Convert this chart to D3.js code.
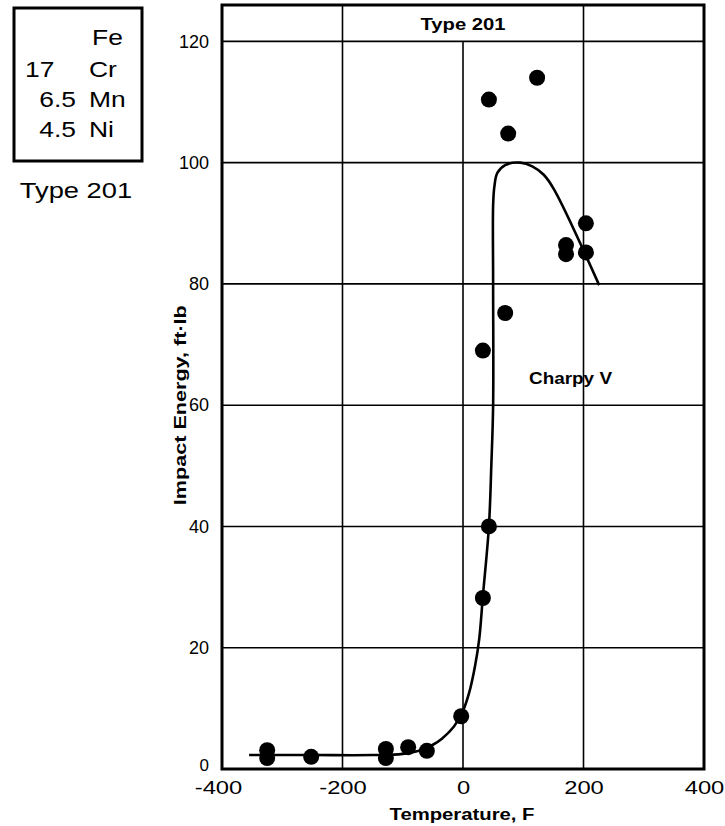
<!DOCTYPE html>
<html><head><meta charset="utf-8">
<script src="https://cdn.jsdelivr.net/npm/d3@7"></script>
<style>body{margin:0;background:#fff}svg{display:block}text{font-family:"Liberation Sans",Arial,sans-serif;fill:#000}</style>
</head><body><svg id="c" width="725" height="826"></svg>
<script>
const xTicks = [-400, -200, 0, 200, 400];
const yTicks = [0, 20, 40, 60, 80, 100, 120];
const pointTemps =  [-325, -325, -252, -128, -128, -91, -60, -3, 33, 43, 33, 70, 43, 75, 123, 171, 171, 204, 204];
const pointEnergy = [3.1, 1.8, 2.0, 3.3, 1.8, 3.6, 3.0, 8.7, 28.2, 40, 69, 75.2, 110.4, 104.8, 114, 86.4, 84.9, 90, 85.2];
const curveTemps =  [-355, -250, -150, -100, -70, -50, -35, -15, 0, 10, 20, 27, 33, 43, 47, 50, 50, 50, 52, 57, 70, 95, 115, 134, 151, 226];
const curveEnergy = [2.3, 2.3, 2.3, 2.5, 3.1, 4.0, 5.0, 7.0, 9.6, 12.5, 17, 21.5, 28.5, 40, 50, 60, 80, 93, 96, 98.3, 99.6, 100, 99.4, 98, 95.6, 79.8];
const compNumbers = ["", "17", "6.5", "4.5"];
const compElements = ["Fe", "Cr", "Mn", "Ni"];

const svg = d3.select("#c");
const x = d3.scaleLinear().domain([-400, 400]).range([222, 704]);
const y = d3.scaleLinear().domain([0, 126]).range([769, 5]);

function stretch(sel, k) {
  sel.each(function () {
    const w = this.getComputedTextLength();
    this.setAttribute("textLength", w * k);
    this.setAttribute("lengthAdjust", "spacingAndGlyphs");
  });
}
function fitTo(sel, w) {
  sel.attr("textLength", w).attr("lengthAdjust", "spacingAndGlyphs");
}

// gridlines
const g = svg.append("g");
g.selectAll(".hg").data(yTicks.filter(v => v > 0)).join("line")
  .attr("x1", x(-400)).attr("x2", x(400)).attr("y1", d => y(d)).attr("y2", d => y(d))
  .attr("stroke", "#000").attr("stroke-width", 1.6);
g.selectAll(".vg").data([-200, 0, 200]).join("line")
  .attr("x1", d => x(d)).attr("x2", d => x(d))
  .attr("y1", d => d === 0 ? y(120) : y(126)).attr("y2", y(0))
  .attr("stroke", "#000").attr("stroke-width", 1.6);

// axes (labels only, frame drawn separately)
const xAxis = svg.append("g").attr("transform", `translate(0,${y(0)})`)
  .call(d3.axisBottom(x).tickValues(xTicks).tickSize(0).tickPadding(12).tickFormat(d => String(d)));
xAxis.select(".domain").remove();
xAxis.selectAll("text").attr("font-size", 19).attr("font-family", "Liberation Sans, Arial, sans-serif").attr("dy", "0.71em")
  .call(stretch, 1.25);
xAxis.selectAll(".tick").filter(d => d === -400).select("text").attr("dx", -4);
const yAxis = svg.append("g").attr("transform", `translate(${x(-400)},0)`)
  .call(d3.axisLeft(y).tickValues(yTicks).tickSize(0).tickPadding(13));
yAxis.select(".domain").remove();
yAxis.selectAll("text").attr("font-size", 18).attr("font-family", "Liberation Sans, Arial, sans-serif");
yAxis.selectAll(".tick").filter(d => d === 0).select("text").attr("dy", "0.1em").attr("font-size", 17);

// frame
svg.append("rect").attr("x", x(-400)).attr("y", y(126)).attr("width", x(400) - x(-400)).attr("height", y(0) - y(126))
  .attr("fill", "none").attr("stroke", "#000").attr("stroke-width", 3);

// curve
const line = d3.line().x(d => x(d[0])).y(d => y(d[1])).curve(d3.curveCatmullRom.alpha(0.5));
svg.append("path").datum(curveTemps.map((t, i) => [t, curveEnergy[i]]))
  .attr("d", line).attr("fill", "none").attr("stroke", "#000").attr("stroke-width", 2.6);

// points
svg.selectAll(".pt").data(pointTemps.map((t, i) => [t, pointEnergy[i]])).join("circle")
  .attr("cx", d => x(d[0])).attr("cy", d => y(d[1])).attr("r", 8).attr("fill", "#000");

// texts in chart
svg.append("text").attr("x", x(0)).attr("y", 30).attr("text-anchor", "middle")
  .attr("font-size", 16).attr("font-weight", "bold").text("Type 201").call(fitTo, 85);
svg.append("text").attr("x", 529).attr("y", 384)
  .attr("font-size", 16).attr("font-weight", "bold").text("Charpy V").call(fitTo, 83);
svg.append("text").attr("x", x(0) - 1).attr("y", 820).attr("text-anchor", "middle")
  .attr("font-size", 16).attr("font-weight", "bold").text("Temperature, F").call(fitTo, 145);
svg.append("text").attr("transform", `translate(186,${y(60)}) rotate(-90)`).attr("text-anchor", "middle")
  .attr("font-size", 16).attr("font-weight", "bold").text("Impact Energy, ft\u00b7lb").call(fitTo, 200);

// composition box
svg.append("rect").attr("x", 14).attr("y", 8).attr("width", 128).attr("height", 153)
  .attr("fill", "none").attr("stroke", "#000").attr("stroke-width", 3);
const rows = [45, 77, 107, 137];
compNumbers.forEach((n, i) => {
  if (n === "17") svg.append("text").attr("x", 25).attr("y", rows[i]).attr("font-size", 22).text(n).call(stretch, 1.2);
  else if (n) svg.append("text").attr("x", 76).attr("y", rows[i]).attr("font-size", 22).attr("text-anchor", "end").text(n).call(stretch, 1.2);
  svg.append("text").attr("x", i === 0 ? 92 : 89).attr("y", rows[i]).attr("font-size", 22).text(compElements[i]).call(stretch, 1.2);
});
svg.append("text").attr("x", 76).attr("y", 198).attr("text-anchor", "middle").attr("font-size", 22).text("Type 201").call(stretch, 1.24);
</script></body></html>
